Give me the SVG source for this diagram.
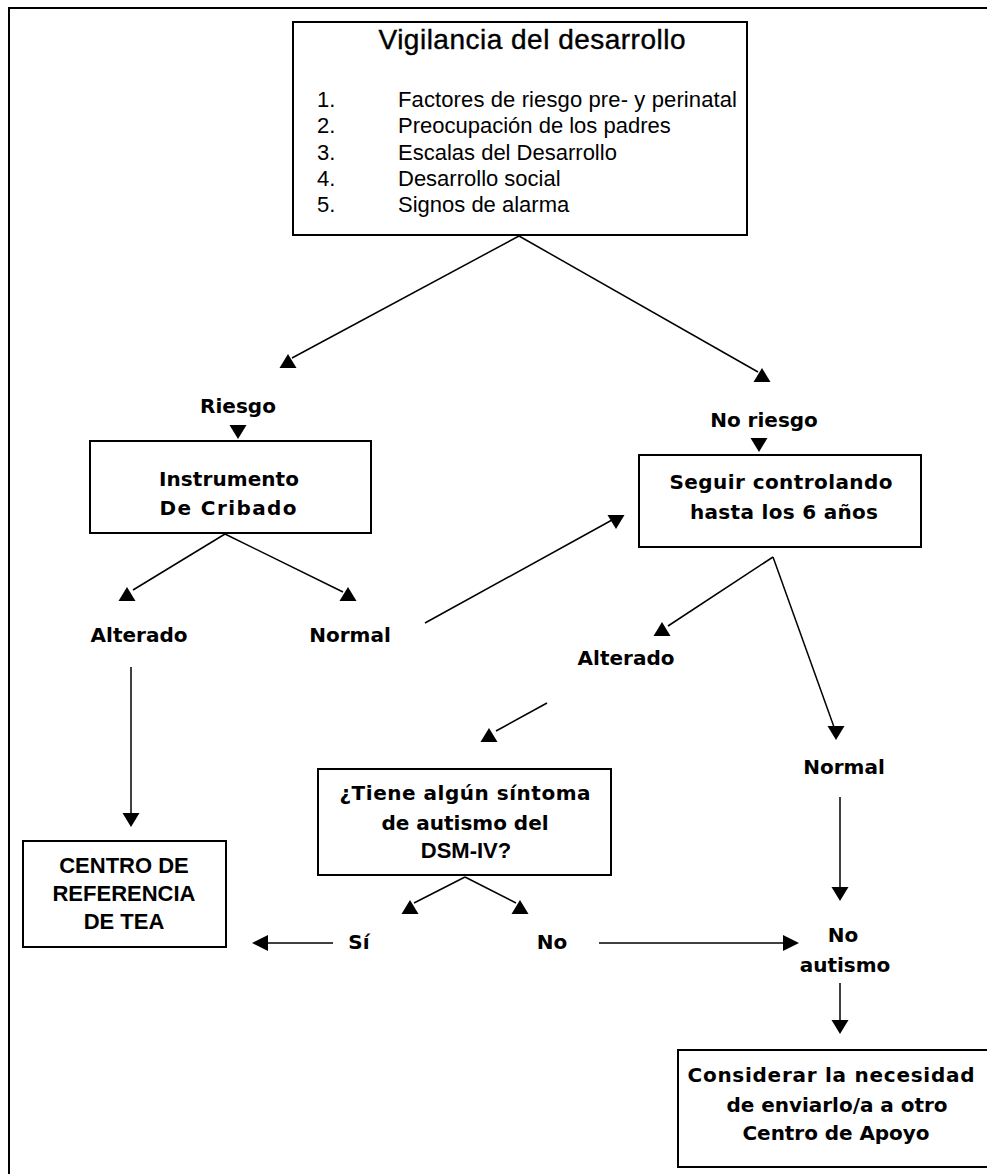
<svg xmlns="http://www.w3.org/2000/svg" width="987" height="1174" viewBox="0 0 987 1174">
<style>
.box{fill:#fff;stroke:#000;stroke-width:2}
.ln{stroke:#000;stroke-width:1.5;fill:none}
.b{font-family:"DejaVu Sans",Verdana,sans-serif;font-weight:bold;font-size:20px;fill:#000}
.n{font-family:"Liberation Sans",Arial,sans-serif;font-size:22px;fill:#000}
.t{font-family:"Liberation Sans",Arial,sans-serif;font-size:28px;fill:#000;stroke:#000;stroke-width:0.4}
.c{font-family:"Liberation Sans",Arial,sans-serif;font-weight:bold;font-size:22px;fill:#000}
.m{text-anchor:middle}
</style>
<defs>
<path id="tu" d="M-8.5,7 L8.5,7 L0,-7 Z" fill="#000"/>
<path id="td" d="M-8.5,-7 L8.5,-7 L0,7 Z" fill="#000"/>
<path id="tr" d="M-8,-8 L-8,8 L8,0 Z" fill="#000"/>
<path id="tl" d="M8,-8 L8,8 L-8,0 Z" fill="#000"/>
</defs>
<rect x="0" y="0" width="987" height="1174" fill="#fff"/>
<rect x="9" y="8" width="1000" height="1200" fill="none" stroke="#000" stroke-width="2"/>

<g id="connectors">
<line class="ln" x1="519" y1="236" x2="292" y2="358"/>
<use href="#tu" x="288" y="361"/>
<line class="ln" x1="519" y1="236" x2="758" y2="372"/>
<use href="#tu" x="762" y="375"/>
<use href="#td" x="238" y="432"/>
<use href="#td" x="759" y="445"/>
<line class="ln" x1="225" y1="534" x2="133" y2="590"/>
<use href="#tu" x="127" y="594"/>
<line class="ln" x1="225" y1="534" x2="343" y2="592"/>
<use href="#tu" x="348" y="594"/>
<line class="ln" x1="425" y1="623" x2="612" y2="520"/>
<use href="#td" x="616" y="522"/>
<line class="ln" x1="773" y1="557" x2="668" y2="626"/>
<use href="#tu" x="662" y="629"/>
<line class="ln" x1="773" y1="557" x2="834" y2="727"/>
<use href="#td" x="836" y="733"/>
<line class="ln" x1="547" y1="703" x2="496" y2="731"/>
<use href="#tu" x="489" y="735"/>
<line class="ln" x1="131" y1="667" x2="131" y2="815"/>
<use href="#td" x="131" y="820"/>
<line class="ln" x1="465" y1="877" x2="414" y2="903"/>
<use href="#tu" x="410" y="907"/>
<line class="ln" x1="465" y1="877" x2="516" y2="903"/>
<use href="#tu" x="520" y="907"/>
<line class="ln" x1="333" y1="943" x2="266" y2="943"/>
<use href="#tl" x="260" y="943"/>
<line class="ln" x1="599" y1="943" x2="785" y2="943"/>
<use href="#tr" x="791" y="943"/>
<line class="ln" x1="840" y1="797" x2="840" y2="889"/>
<use href="#td" x="840" y="894"/>
<line class="ln" x1="840" y1="983" x2="840" y2="1022"/>
<use href="#td" x="840" y="1027"/>
</g>

<g id="vigilancia">
<rect class="box" x="293" y="22" width="454" height="213"/>
<text class="t m" x="532" y="49" textLength="307">Vigilancia del desarrollo</text>
<text class="n" x="317" y="107">1.</text>
<text class="n" x="398" y="107" textLength="339">Factores de riesgo pre- y perinatal</text>
<text class="n" x="317" y="133">2.</text>
<text class="n" x="398" y="133">Preocupación de los padres</text>
<text class="n" x="317" y="160">3.</text>
<text class="n" x="398" y="160">Escalas del Desarrollo</text>
<text class="n" x="317" y="186">4.</text>
<text class="n" x="398" y="186">Desarrollo social</text>
<text class="n" x="317" y="212">5.</text>
<text class="n" x="398" y="212">Signos de alarma</text>
</g>

<g id="riesgo"><text class="b m" x="238" y="413">Riesgo</text></g>
<g id="no-riesgo"><text class="b m" x="764" y="427">No riesgo</text></g>

<g id="instrumento">
<rect class="box" x="90" y="441" width="281" height="92"/>
<text class="b m" x="229" y="486" textLength="140">Instrumento</text>
<text class="b m" x="228" y="515" textLength="137">De Cribado</text>
</g>

<g id="seguir">
<rect class="box" x="639" y="455" width="282" height="92"/>
<text class="b m" x="781" y="489" textLength="223">Seguir controlando</text>
<text class="b m" x="784" y="519" textLength="188">hasta los 6 años</text>
</g>

<g id="alterado1"><text class="b m" x="139" y="642">Alterado</text></g>
<g id="normal1"><text class="b m" x="350" y="642">Normal</text></g>
<g id="alterado2"><text class="b m" x="626" y="665">Alterado</text></g>
<g id="normal2"><text class="b m" x="844" y="774">Normal</text></g>

<g id="sintoma">
<rect class="box" x="318" y="769" width="293" height="106"/>
<text class="b m" x="465" y="800" textLength="251">¿Tiene algún síntoma</text>
<text class="b m" x="465" y="830">de autismo del</text>
<text class="c m" x="466" y="858">DSM-IV?</text>
</g>

<g id="centro">
<rect class="box" x="23" y="841" width="203" height="106"/>
<text class="c m" x="124" y="873">CENTRO DE</text>
<text class="c m" x="124" y="901">REFERENCIA</text>
<text class="c m" x="124" y="929">DE TEA</text>
</g>

<g id="si"><text class="b m" x="359" y="949">Sí</text></g>
<g id="no"><text class="b m" x="552" y="949">No</text></g>

<g id="no-autismo">
<text class="b m" x="843" y="942">No</text>
<text class="b m" x="845" y="972">autismo</text>
</g>

<g id="considerar">
<rect class="box" x="678" y="1050" width="320" height="117"/>
<text class="b m" x="831" y="1082" textLength="287">Considerar la necesidad</text>
<text class="b m" x="837" y="1112" textLength="221">de enviarlo/a a otro</text>
<text class="b m" x="836" y="1140" textLength="187">Centro de Apoyo</text>
</g>
</svg>
